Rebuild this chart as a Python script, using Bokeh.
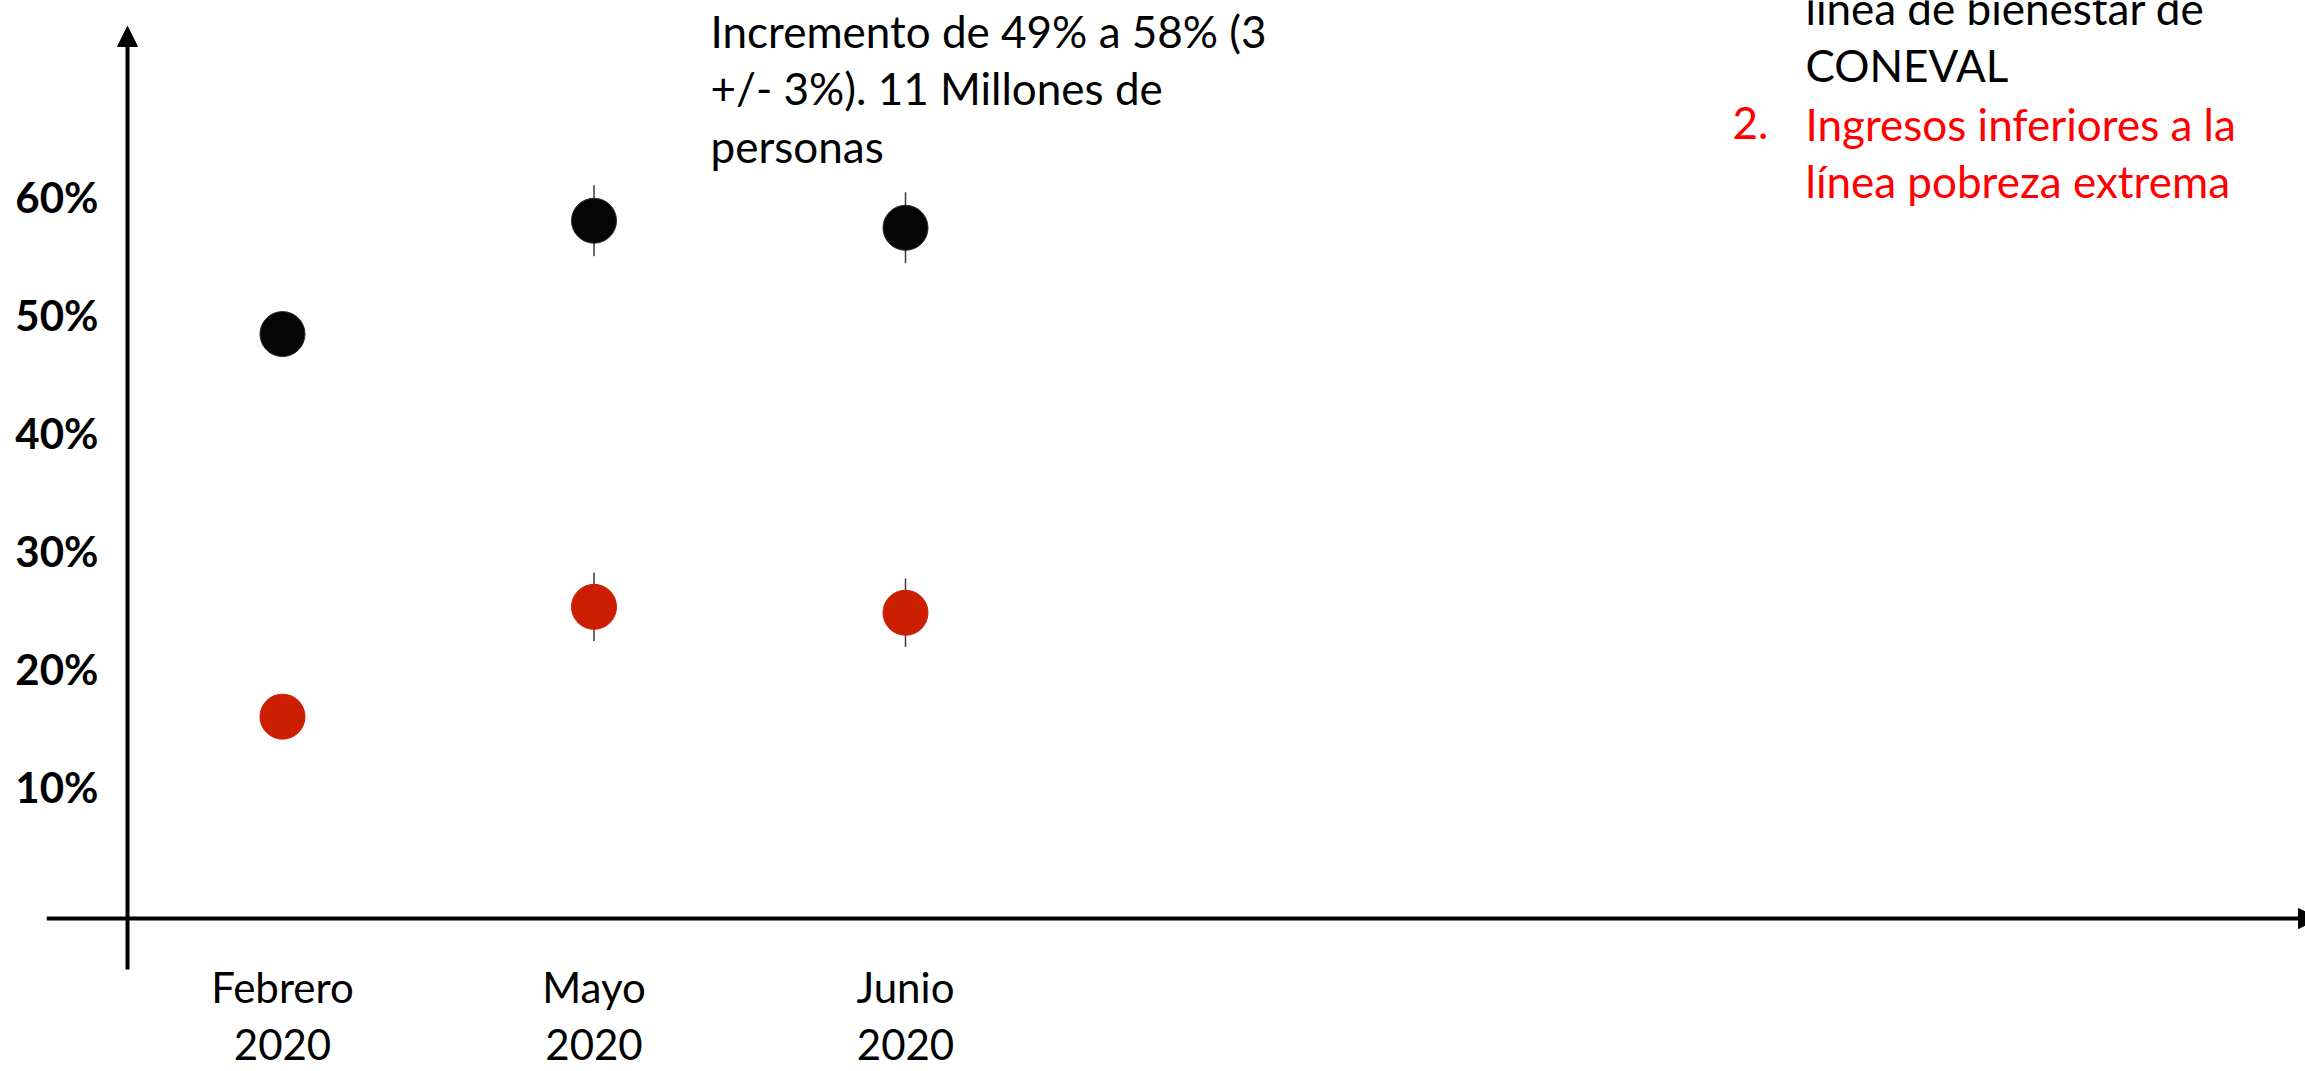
from bokeh.plotting import figure
from bokeh.models import Range1d, FixedTicker, Arrow, NormalHead, Label
from bokeh.embed import file_html
from bokeh.resources import INLINE

# ---------------- data ----------------
meses = ["Febrero\n2020", "Mayo\n2020", "Junio\n2020"]
bienestar = [48.4, 58.0, 57.4]          # ingresos inferiores a la línea de bienestar (%)
bienestar_err = [None, 3.0, 3.0]
pobreza_ext = [16.0, 25.3, 24.8]         # ingresos inferiores a la línea de pobreza extrema (%)
pobreza_ext_err = [None, 2.9, 2.9]
y_ticks = [10, 20, 30, 40, 50, 60]
y_tick_labels = ["10%", "20%", "30%", "40%", "50%", "60%"]

nota = "Incremento de 49% a 58% (3\n+/- 3%). 11 Millones de\npersonas"
leyenda_1 = "línea de bienestar de\nCONEVAL"
leyenda_2_num = "2."
leyenda_2 = "Ingresos inferiores a la\nlínea pobreza extrema"

# ---------------- layout ----------------
W, H = 2305, 1071
FL = 46                    # frame left (where the horizontal axis line starts)
FBOT = 972                 # frame bottom (just below the vertical axis line end)
PX_X, PX_Y = 311.5, 11.82  # pixels per category step / per percent
X1_PX, Y0_PX = 282, 906    # pixel of first category / of 0 %
x_start = 1 - (X1_PX - FL) / PX_X
x_end = x_start + (W - FL) / PX_X
y_end = Y0_PX / PX_Y
y_start = y_end - FBOT / PX_Y
FONT = "Lato"


def sx(px):  # page pixel -> data x
    return x_start + (px - FL) / PX_X


def sy(py):  # page pixel -> data y
    return y_end - py / PX_Y


xs = list(range(1, len(meses) + 1))

p = figure(width=W, height=H, x_range=Range1d(x_start, x_end), y_range=Range1d(y_start, y_end),
           output_backend="svg", toolbar_location=None,
           min_border_left=FL, min_border_bottom=H - FBOT, min_border_top=0, min_border_right=0)
p.title.visible = False
p.outline_line_color = None
p.xgrid.grid_line_color = None
p.ygrid.grid_line_color = None
p.background_fill_color = "white"
p.border_fill_color = "white"

# x axis (month labels)
xa = p.xaxis[0]
xa.ticker = FixedTicker(ticks=xs)
xa.major_label_overrides = {x: m for x, m in zip(xs, meses)}
xa.axis_line_color = None
xa.major_tick_line_color = None
xa.minor_tick_line_color = None
xa.major_tick_in = 0
xa.major_tick_out = 0
xa.major_label_standoff = -10
xa.major_label_text_font = FONT
xa.major_label_text_font_size = "42px"
xa.major_label_text_color = "black"
xa.major_label_text_line_height = 1.14

# y axis (percent labels)
ya = p.yaxis[0]
ya.ticker = FixedTicker(ticks=y_ticks)
ya.major_label_overrides = {t: l for t, l in zip(y_ticks, y_tick_labels)}
ya.axis_line_color = None
ya.major_tick_line_color = None
ya.minor_tick_line_color = None
ya.major_tick_in = 0
ya.major_tick_out = 0
ya.major_label_standoff = -52
ya.major_label_text_font = FONT
ya.major_label_text_font_style = "bold"
ya.major_label_text_font_size = "42px"
ya.major_label_text_color = "black"

# drawn axis lines with arrow heads
p.add_layout(Arrow(end=NormalHead(size=20, fill_color="black", line_color="black", line_width=1),
                   x_start=sx(127), y_start=sy(970), x_end=sx(127), y_end=sy(26),
                   line_width=4, line_color="black"))
p.add_layout(Arrow(end=NormalHead(size=20, fill_color="black", line_color="black", line_width=1),
                   x_start=sx(FL), y_start=sy(919), x_end=sx(2318), y_end=sy(919),
                   line_width=4, line_color="black"))


# error bars (behind markers)
def bars(vals, errs):
    bx, lo, hi = [], [], []
    for x, v, e in zip(xs, vals, errs):
        if e is not None:
            bx.append(x); lo.append(v - e); hi.append(v + e)
    return bx, lo, hi


bx, lo, hi = bars(bienestar, bienestar_err)
p.segment(x0=bx, y0=lo, x1=bx, y1=hi, line_color="#3a3a3a", line_width=1.5)
bx, lo, hi = bars(pobreza_ext, pobreza_ext_err)
p.segment(x0=bx, y0=lo, x1=bx, y1=hi, line_color="#3a3a3a", line_width=1.5)

# markers
p.scatter(xs, bienestar, size=45, fill_color="#050505", line_color="#2a2a2a", line_width=1)
p.scatter(xs, pobreza_ext, size=45, fill_color="#CC1E00", line_color="#CC1E00", line_width=1)

# texts
common = dict(text_font=FONT, text_font_size="44px", text_baseline="middle",
              text_align="left", text_line_height=1.1)
p.add_layout(Label(x=sx(710), y=sy(88), text=nota, text_color="black", **common))
p.add_layout(Label(x=sx(1805), y=sy(36), text=leyenda_1, text_color="black", **common))
p.add_layout(Label(x=sx(1732), y=sy(123), text=leyenda_2_num, text_color="#FF0000", **common))
p.add_layout(Label(x=sx(1805), y=sy(152), text=leyenda_2, text_color="#FF0000", **common))

open("out.html", "w").write(file_html(p, INLINE))
